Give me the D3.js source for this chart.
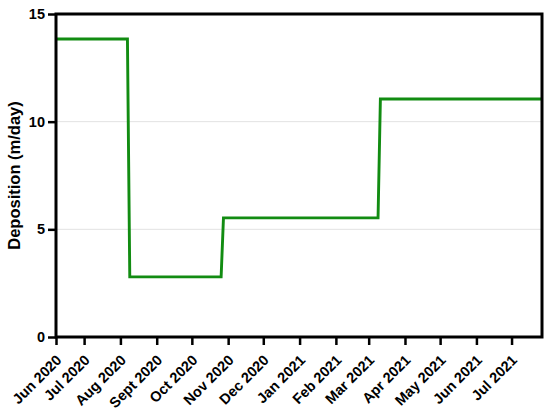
<script src="https://cdn.jsdelivr.net/npm/d3@7"></script>
<style>
  body { margin: 0; background: #fff; }
  svg text { font-family: "Liberation Sans", Arial, sans-serif; font-weight: bold; fill: #000; }
</style>
<svg width="550" height="417"></svg>
<script>
  // data (step series)
  const dates = ["2020-06-07", "2020-08-07", "2020-08-09", "2020-10-26",
                 "2020-10-28", "2021-03-09", "2021-03-11", "2021-07-27"];
  const values = [13.84, 13.84, 2.79, 2.79, 5.53, 5.53, 11.05, 11.05];

  const tickDates = ["2020-06-07", "2020-07-01", "2020-08-01", "2020-09-01",
                     "2020-10-01", "2020-11-01", "2020-12-01", "2021-01-01",
                     "2021-02-01", "2021-03-01", "2021-04-01", "2021-05-01",
                     "2021-06-01", "2021-07-01"];
  const tickLabels = ["Jun 2020", "Jul 2020", "Aug 2020", "Sept 2020", "Oct 2020",
                      "Nov 2020", "Dec 2020", "Jan 2021", "Feb 2021", "Mar 2021",
                      "Apr 2021", "May 2021", "Jun 2021", "Jul 2021"];
  const yTicks = [0, 5, 10, 15];

  const parse = d3.utcParse("%Y-%m-%d");
  const data = dates.map((d, i) => ({ date: parse(d), value: values[i] }));
  const tDates = tickDates.map(parse);

  const mLeft = 56, mRight = 542, mTop = 14, mBottom = 337;

  const svg = d3.select("svg");
  const x = d3.scaleUtc().domain([parse("2020-06-07"), parse("2021-07-27")]).range([mLeft, mRight]);
  const y = d3.scaleLinear().domain([0, 15]).range([mBottom, mTop]);

  // grid
  svg.append("g")
    .selectAll("line")
    .data([5, 10])
    .join("line")
    .attr("x1", mLeft).attr("x2", mRight)
    .attr("y1", d => y(d)).attr("y2", d => y(d))
    .attr("stroke", "#e2e2e2")
    .attr("stroke-width", 1);

  // line
  const line = d3.line().x(d => x(d.date)).y(d => y(d.value));
  svg.append("path")
    .datum(data)
    .attr("d", line)
    .attr("fill", "none")
    .attr("stroke", "#128c12")
    .attr("stroke-width", 2.9)
    .attr("stroke-linejoin", "miter");

  // y axis
  const yAxis = svg.append("g")
    .attr("transform", `translate(${mLeft},0)`)
    .call(d3.axisLeft(y).tickValues(yTicks).tickSize(8).tickPadding(3));
  yAxis.select(".domain").remove();
  yAxis.selectAll("line").attr("stroke", "#000").attr("stroke-width", 2.5);
  yAxis.selectAll("text").style("font-size", "14.5px");

  // x axis
  const xAxis = svg.append("g")
    .attr("transform", `translate(0,${mBottom})`)
    .call(d3.axisBottom(x).tickValues(tDates).tickSize(8)
      .tickFormat((d, i) => tickLabels[i]));
  xAxis.select(".domain").remove();
  xAxis.selectAll("line").attr("stroke", "#000").attr("stroke-width", 2.5);
  xAxis.selectAll("text")
    .style("font-size", "14.5px")
    .attr("text-anchor", "end")
    .attr("y", 0)
    .attr("dy", 0)
    .attr("transform", "translate(6,24) rotate(-45)");

  // frame
  svg.append("rect")
    .attr("x", mLeft).attr("y", mTop)
    .attr("width", mRight - mLeft).attr("height", mBottom - mTop)
    .attr("fill", "none")
    .attr("stroke", "#000")
    .attr("stroke-width", 3);

  // y title
  svg.append("text")
    .attr("transform", `translate(20,${(mTop + mBottom) / 2}) rotate(-90)`)
    .attr("text-anchor", "middle")
    .style("font-size", "16.5px")
    .text("Deposition (m/day)");
</script>
